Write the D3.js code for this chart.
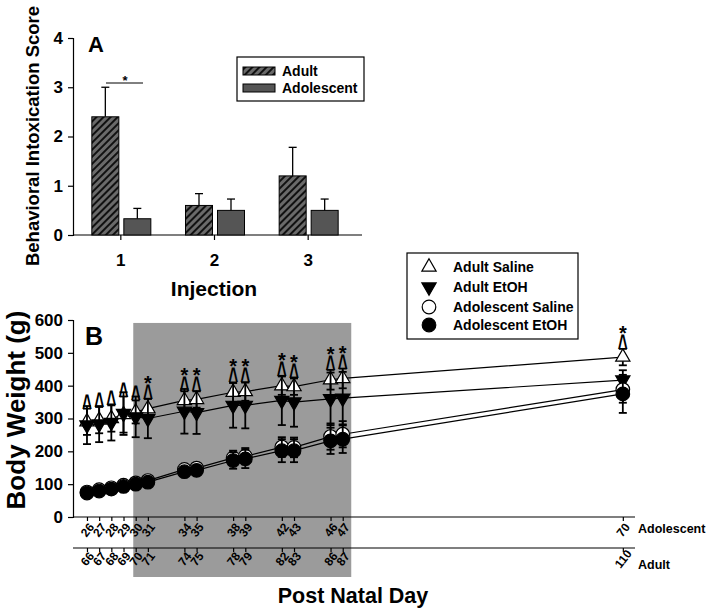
<!DOCTYPE html>
<html>
<head>
<meta charset="utf-8">
<script src="https://cdn.jsdelivr.net/npm/d3@7"></script>
<style>
  html, body { margin: 0; padding: 0; background: #fff; }
  svg { display: block; }
  text { font-family: "Liberation Sans", Arial, sans-serif; font-weight: bold; fill: #000; }
</style>
</head>
<body>
<svg id="chart" width="711" height="609"></svg>
<script>
// ---------------- Panel A data ----------------
const injections = ["1", "2", "3"];
const adultScore = [2.4, 0.6, 1.2];
const adultScoreErr = [0.6, 0.24, 0.58];
const adolescentScore = [0.33, 0.5, 0.5];
const adolescentScoreErr = [0.21, 0.23, 0.23];
const scoreTicks = [0, 1, 2, 3, 4];
const legendA = ["Adult", "Adolescent"];

// ---------------- Panel B data ----------------
const adolescentDays = [26, 27, 28, 29, 30, 31, 34, 35, 38, 39, 42, 43, 46, 47, 70];
const adultDays = [66, 67, 68, 69, 70, 71, 74, 75, 78, 79, 82, 83, 86, 87, 110];
const adultSaline = [290, 295, 300, 312, 320, 330, 355, 358, 380, 382, 400, 397, 418, 422, 487];
const adultSalineErr = [40, 40, 40, 55, 35, 30, 28, 25, 30, 28, 28, 25, 30, 30, 25];
const adultEtOH = [280, 283, 288, 315, 305, 300, 322, 318, 340, 340, 355, 350, 360, 362, 417];
const adultEtOHErr = [58, 55, 55, 65, 62, 60, 68, 65, 68, 70, 75, 75, 80, 80, 30];
const adolSaline = [76, 83, 89, 97, 104, 111, 145, 149, 180, 185, 213, 212, 245, 252, 388];
const adolSalineErr = [8, 8, 8, 8, 8, 10, 12, 15, 22, 25, 30, 30, 40, 40, 40];
const adolEtOH = [73, 79, 85, 93, 100, 106, 138, 142, 172, 177, 202, 202, 232, 237, 375];
const adolEtOHErr = [8, 8, 8, 8, 8, 8, 12, 15, 25, 28, 35, 35, 40, 42, 58];
const caretDays = [26, 27, 28, 29, 30, 31, 34, 35, 38, 39, 42, 43, 46, 47, 70];
const starDays = [31, 34, 35, 38, 39, 42, 43, 46, 47, 70];
const weightTicks = [0, 100, 200, 300, 400, 500, 600];
const shadeDays = [29.8, 47.7];
const legendB = ["Adult Saline", "Adult EtOH", "Adolescent Saline", "Adolescent EtOH"];

const svg = d3.select("#chart");
svg.append("rect").attr("width", 711).attr("height", 609).attr("fill", "#fff");

// hatch pattern
const defs = svg.append("defs");
const pat = defs.append("pattern").attr("id", "hatch").attr("patternUnits", "userSpaceOnUse")
  .attr("width", 5).attr("height", 5).attr("patternTransform", "rotate(45)");
pat.append("rect").attr("width", 5).attr("height", 5).attr("fill", "#6a6a6a");
pat.append("rect").attr("x", 0).attr("width", 2).attr("height", 5).attr("fill", "#111");

// ================= PANEL A =================
const gA = svg.append("g");
const xA = d3.scaleBand().domain(injections).range([74, 355]);
const yA = d3.scaleLinear().domain([0, 4]).range([235, 38]);
const barW = 27;

const yAxisA = gA.append("g").attr("transform", "translate(73,0)")
  .call(d3.axisLeft(yA).tickValues(scoreTicks).tickFormat(d3.format("d")).tickSize(5).tickPadding(5));
yAxisA.selectAll("text").style("font-size", "17px");

const xAxisA = gA.append("g").attr("transform", "translate(0,235)")
  .call(d3.axisBottom(xA).tickSize(5).tickSizeOuter(0));
xAxisA.select(".domain").remove();
xAxisA.selectAll("text").attr("y", 31).attr("dy", 0).style("font-size", "17px");
gA.append("line").attr("x1", 73).attr("x2", 362).attr("y1", 235).attr("y2", 235).attr("stroke", "#000").attr("stroke-width", 1.2);

// error bars (upper only)
function errUp(cx, v, e) {
  gA.append("line").attr("x1", cx).attr("x2", cx).attr("y1", yA(v)).attr("y2", yA(v + e)).attr("stroke", "#000").attr("stroke-width", 1.3);
  gA.append("line").attr("x1", cx - 4).attr("x2", cx + 4).attr("y1", yA(v + e)).attr("y2", yA(v + e)).attr("stroke", "#000").attr("stroke-width", 1.3);
}
injections.forEach((c, i) => {
  const cx = xA(c) + xA.bandwidth() / 2;
  errUp(cx - 2 - barW / 2, adultScore[i], adultScoreErr[i]);
  errUp(cx + 3 + barW / 2, adolescentScore[i], adolescentScoreErr[i]);
  gA.append("rect").attr("x", cx - 2 - barW).attr("width", barW)
    .attr("y", yA(adultScore[i])).attr("height", yA(0) - yA(adultScore[i]))
    .attr("fill", "url(#hatch)").attr("stroke", "#000").attr("stroke-width", 1);
  gA.append("rect").attr("x", cx + 3).attr("width", barW)
    .attr("y", yA(adolescentScore[i])).attr("height", yA(0) - yA(adolescentScore[i]))
    .attr("fill", "#555").attr("stroke", "#000").attr("stroke-width", 1);
});
// significance
gA.append("line").attr("x1", 106).attr("x2", 143).attr("y1", 83).attr("y2", 83).attr("stroke", "#000");
gA.append("text").attr("x", 125).attr("y", 85).attr("text-anchor", "middle").style("font-size", "13px").text("*");

gA.append("text").attr("x", 88).attr("y", 52).style("font-size", "22px").text("A");
gA.append("text").attr("transform", "translate(39,136) rotate(-90)").attr("text-anchor", "middle")
  .style("font-size", "18.5px").text("Behavioral Intoxication Score");
gA.append("text").attr("x", 214).attr("y", 296).attr("text-anchor", "middle").style("font-size", "21px").text("Injection");

// legend A
gA.append("rect").attr("x", 237).attr("y", 57).attr("width", 127).attr("height", 44).attr("fill", "#fff").attr("stroke", "#000").attr("stroke-width", 1.2);
legendA.forEach((t, i) => {
  const yy = 71 + i * 17;
  gA.append("rect").attr("x", 243).attr("y", yy - 4).attr("width", 32).attr("height", 8)
    .attr("fill", i === 0 ? "url(#hatch)" : "#555").attr("stroke", "#000");
  gA.append("text").attr("x", 282).attr("y", yy + 5).style("font-size", "14px").text(t);
});

// ================= PANEL B =================
const gB = svg.append("g");
const xB = d3.scaleLinear().domain([25, 71]).range([74.8, 635]);
const yB = d3.scaleLinear().domain([0, 600]).range([517, 320]);

// shaded region
gB.append("rect").attr("x", xB(shadeDays[0])).attr("width", xB(shadeDays[1]) - xB(shadeDays[0]))
  .attr("y", yB(591)).attr("height", 577 - yB(591)).attr("fill", "#9b9b9b");

const yAxisB = gB.append("g").attr("transform", "translate(73,0)")
  .call(d3.axisLeft(yB).tickValues(weightTicks).tickSize(5).tickPadding(5));
yAxisB.selectAll("text").style("font-size", "17px");

function dayAxis(yPos, labels, off) {
  const ax = gB.append("g").attr("transform", `translate(0,${yPos})`)
    .call(d3.axisBottom(xB).tickValues(adolescentDays).tickSize(4).tickSizeOuter(0)
      .tickFormat((d, i) => labels[i]));
  ax.select(".domain").remove();
  ax.selectAll("text").attr("y", 0).attr("dy", 0)
    .attr("transform", `translate(0,${off}) rotate(-52)`).attr("text-anchor", "middle")
    .attr("dominant-baseline", "central").style("font-size", "12px");
  gB.append("line").attr("x1", 73).attr("x2", 635).attr("y1", yPos).attr("y2", yPos).attr("stroke", "#000").attr("stroke-width", 1.2);
}
dayAxis(517, adolescentDays, 13);
dayAxis(548, adultDays, 11);

gB.append("text").attr("x", 638).attr("y", 533).style("font-size", "12.5px").text("Adolescent");
gB.append("text").attr("x", 638).attr("y", 569).style("font-size", "12.5px").text("Adult");
gB.append("text").attr("x", 353).attr("y", 603).attr("text-anchor", "middle").style("font-size", "21.5px").text("Post Natal Day");
gB.append("text").attr("transform", "translate(25,410) rotate(-90)").attr("text-anchor", "middle")
  .style("font-size", "26px").text("Body Weight (g)");
gB.append("text").attr("x", 85).attr("y", 345).style("font-size", "25px").text("B");

const series = [
  { vals: adultSaline, errs: adultSalineErr, shape: "triUp", fill: "#fff" },
  { vals: adultEtOH, errs: adultEtOHErr, shape: "triDown", fill: "#000" },
  { vals: adolSaline, errs: adolSalineErr, shape: "circle", fill: "#fff" },
  { vals: adolEtOH, errs: adolEtOHErr, shape: "circle", fill: "#000" }
];
const line = d3.line().x((d) => xB(d[0])).y((d) => yB(d[1]));
const triPath = d3.symbol().type(d3.symbolTriangle).size(88)();

function marker(g, shape, fill, x, y) {
  if (shape === "circle") {
    g.append("circle").attr("cx", x).attr("cy", y).attr("r", 6.8).attr("fill", fill).attr("stroke", "#000").attr("stroke-width", 1.2);
  } else {
    g.append("path").attr("d", triPath)
      .attr("transform", `translate(${x},${y})${shape === "triDown" ? " rotate(180)" : ""}`)
      .attr("fill", fill).attr("stroke", "#000").attr("stroke-width", 1.2);
  }
}

series.forEach((s) => {
  const pts = adolescentDays.map((d, i) => [d, s.vals[i]]);
  gB.append("path").attr("d", line(pts)).attr("fill", "none").attr("stroke", "#000").attr("stroke-width", 1.2);
});
series.forEach((s) => {
  const g = gB.append("g");
  adolescentDays.forEach((d, i) => {
    const x = xB(d), lo = yB(s.vals[i] - s.errs[i]), hi = yB(s.vals[i] + s.errs[i]);
    g.append("line").attr("x1", x).attr("x2", x).attr("y1", lo).attr("y2", hi).attr("stroke", "#000").attr("stroke-width", 1.8);
    [lo, hi].forEach((yy) => g.append("line").attr("x1", x - 4).attr("x2", x + 4).attr("y1", yy).attr("y2", yy).attr("stroke", "#000").attr("stroke-width", 1.8));
  });
  adolescentDays.forEach((d, i) => marker(g, s.shape, s.fill, xB(d), yB(s.vals[i])));
});

// significance markers (^ and *), stacked above the Adult Saline error bar
caretDays.forEach((d) => {
  const i = adolescentDays.indexOf(d);
  const top = yB(adultSaline[i] + adultSalineErr[i]);
  gB.append("text").attr("transform", `translate(${xB(d)},${top + 8}) scale(0.9,1.75)`)
    .attr("text-anchor", "middle").style("font-size", "19px").text("^");
});
starDays.forEach((d) => {
  const i = adolescentDays.indexOf(d);
  const top = yB(adultSaline[i] + adultSalineErr[i]);
  gB.append("text").attr("x", xB(d)).attr("y", top - 9)
    .attr("text-anchor", "middle").style("font-size", "20px").text("*");
});

// legend B
gB.append("rect").attr("x", 407).attr("y", 253).attr("width", 171).attr("height", 86).attr("fill", "#fff").attr("stroke", "#000").attr("stroke-width", 1.2);
const legShapes = [["triUp", "#fff"], ["triDown", "#000"], ["circle", "#fff"], ["circle", "#000"]];
const legY = [267, 287, 307, 325];
legendB.forEach((t, i) => {
  marker(gB, legShapes[i][0], legShapes[i][1], 429, legY[i]);
  gB.append("text").attr("x", 453).attr("y", legY[i] + 5).style("font-size", "14px").text(t);
});

svg.selectAll(".tick line").attr("stroke", "#000").attr("stroke-width", 1.2);
svg.selectAll(".domain").attr("stroke", "#000").attr("stroke-width", 1.2);
</script>
</body>
</html>
